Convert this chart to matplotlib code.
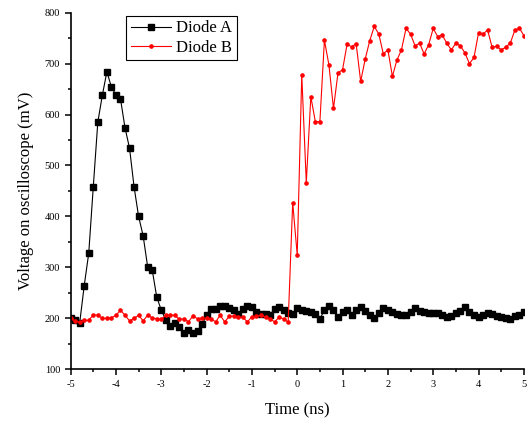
import numpy as np
import matplotlib
matplotlib.use("Agg")
import matplotlib.pyplot as plt
from matplotlib.ticker import MultipleLocator

# Tempo (ns), passo de 0.1
tempo = np.round(np.arange(-5.0, 5.01, 0.1), 1)

# Diodo A (mV)
diodo_a = [200, 197, 191, 264, 328, 458, 585, 638, 684, 654,
           638, 631, 574, 534, 458, 400, 362, 301, 295, 242,
           216, 197, 184, 191, 182, 172, 178, 172, 176, 188,
           206, 218, 218, 225, 225, 221, 216, 209, 219, 225,
           223, 212, 209, 208, 206, 219, 223, 216, 211, 209,
           221, 217, 215, 213, 208, 199, 216, 224, 217, 202,
           212, 216, 207, 217, 223, 215, 207, 200, 210, 221,
           217, 212, 208, 207, 207, 213, 220, 215, 212, 210,
           211, 210, 207, 203, 205, 210, 215, 223, 213, 207,
           203, 207, 210, 209, 205, 203, 200, 198, 205, 207,
           212]

# Diodo B (mV)
diodo_b = [200, 195, 192, 196, 196, 207, 206, 200, 200, 201,
           206, 216, 206, 195, 200, 206, 195, 206, 201, 199,
           198, 206, 206, 206, 198, 199, 193, 205, 199, 200,
           200, 199, 193, 206, 193, 204, 204, 202, 202, 193,
           203, 204, 206, 202, 199, 193, 202, 199, 192, 427,
           324, 678, 466, 635, 586, 586, 746, 697, 612, 682,
           688, 738, 733, 739, 665, 709, 745, 773, 758, 719,
           727, 675, 707, 727, 769, 758, 735, 740, 719, 737,
           769, 753, 756, 740, 727, 740, 735, 721, 700, 712,
           760, 758, 766, 732, 734, 727, 732, 740, 765, 770,
           755]

plt.rcParams['font.family'] = ['Liberation Serif', 'DejaVu Serif']
plt.rcParams['axes.unicode_minus'] = False

fig = plt.figure(figsize=(5.27, 4.22), dpi=100)
ax = fig.add_axes([0.134, 0.125, 0.860, 0.845])

ax.plot(tempo, diodo_a, color='black', lw=0.8, marker='s', ms=4.8, label='Diode A')
ax.plot(tempo, diodo_b, color='red', lw=0.8, marker='o', ms=2.3, label='Diode B')

ax.set_xlim(-5, 5)
ax.set_ylim(100, 800)
ax.xaxis.set_major_locator(MultipleLocator(1))
ax.xaxis.set_minor_locator(MultipleLocator(0.5))
ax.yaxis.set_major_locator(MultipleLocator(100))
ax.yaxis.set_minor_locator(MultipleLocator(50))

ax.spines['top'].set_visible(False)
ax.spines['right'].set_visible(False)
ax.spines['left'].set_linewidth(1.2)
ax.spines['bottom'].set_linewidth(1.2)
ax.tick_params(which='major', direction='out', length=4, width=1.1, labelsize=7.5)
ax.tick_params(which='minor', direction='out', length=2.5, width=1.1)

ax.set_xlabel('Time (ns)', fontsize=12, labelpad=10)
ax.set_ylabel('Voltage on oscilloscope (mV)', fontsize=12, labelpad=8)

leg = ax.legend(loc='upper left', bbox_to_anchor=(0.123, 0.99), fontsize=12,
                fancybox=False, edgecolor='black', framealpha=1,
                handlelength=2.4, borderpad=0.25, labelspacing=0.2,
                handletextpad=0.35, borderaxespad=0)
leg.get_frame().set_linewidth(0.8)

fig.savefig('out.png', dpi=100)
